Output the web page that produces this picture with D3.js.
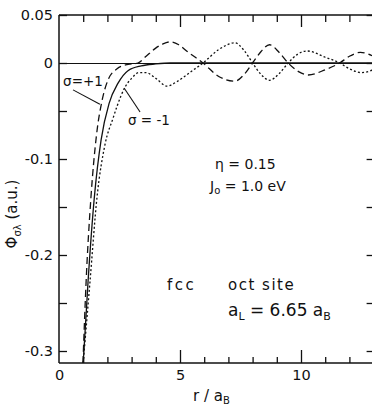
<!DOCTYPE html>
<html>
<head>
<meta charset="utf-8">
<script src="https://cdn.jsdelivr.net/npm/d3@7"></script>
<style>
  body { margin: 0; background: #fff; }
  svg { display: block; font-family: "DejaVu Sans", sans-serif; }
</style>
</head>
<body>
<svg id="chart"></svg>
<script>
// curves: [r/aB, phi]
const sigmaPlus = [
    [0.99, -0.3125], [1.12, -0.228], [1.32, -0.14], [1.55, -0.075], [1.78, -0.039],
    [2.02, -0.018], [2.4, -0.006], [2.75, -0.002], [3.26, 0], [3.6, 0.007],
    [3.97, 0.015], [4.3, 0.02], [4.6, 0.022], [4.95, 0.019], [5.3, 0.012],
    [5.95, 0], [6.6, -0.014], [7.27, -0.019], [7.65, -0.012], [8.0, 0],
    [8.35, 0.012], [8.7, 0.019], [9.1, 0.011], [9.47, 0], [9.9, -0.009],
    [10.3, -0.0125], [11.0, -0.007], [11.6, 0], [12.0, 0.007], [12.45, 0.011], [13, 0.007]
];
const sigmaMinus = [
    [1.0, -0.3125], [1.28, -0.228], [1.57, -0.14], [1.9, -0.085], [2.24, -0.057],
    [2.4, -0.045], [2.73, -0.025], [3.0, -0.016], [3.3, -0.01], [3.6, -0.01],
    [4.0, -0.016], [4.46, -0.024], [4.9, -0.019], [5.4, -0.01], [5.95, 0],
    [6.6, 0.014], [7.27, 0.021], [7.65, 0.013], [8.0, 0], [8.35, -0.012],
    [8.7, -0.018], [9.1, -0.011], [9.47, 0], [9.85, 0.009], [10.25, 0.0125],
    [11.0, 0.006], [11.6, 0], [12.0, -0.006], [12.5, -0.01], [13, -0.007]
];
const sigmaAvg = [
    [1.0, -0.3125], [1.2, -0.228], [1.46, -0.14], [1.74, -0.08], [2.07, -0.042],
    [2.44, -0.021], [2.85, -0.008], [3.4, -0.003], [4.0, -0.001], [4.6, 0], [13, 0]
];

const yTicks = [0.05, 0, -0.05, -0.1, -0.15, -0.2, -0.25, -0.3];
const yLabels = { "0.05": "0.05", "0": "0", "-0.1": "-0.1", "-0.2": "-0.2", "-0.3": "-0.3" };
const xTicks = [1, 2, 3, 4, 5, 6, 7, 8, 9, 10, 11, 12, 13];
const xLabels = [0, 5, 10];

const width = 372, height = 408;
const svg = d3.select("#chart").attr("width", width).attr("height", height);

const x = d3.scaleLinear().domain([0, 13]).range([59, 373.6]);
const y = d3.scaleLinear().domain([-0.3125, 0.05]).range([363, 15]);

const ink = "#111";

// frame
svg.append("line").attr("x1", x(0)).attr("x2", width).attr("y1", y(0.05)).attr("y2", y(0.05))
    .attr("stroke", ink).attr("stroke-width", 1.6);
svg.append("line").attr("x1", x(0)).attr("x2", width).attr("y1", y(-0.3125)).attr("y2", y(-0.3125))
    .attr("stroke", ink).attr("stroke-width", 1.5);
svg.append("line").attr("x1", x(0)).attr("x2", x(0)).attr("y1", y(0.05)).attr("y2", y(-0.3125))
    .attr("stroke", ink).attr("stroke-width", 1.5);
svg.append("line").attr("x1", x(0)).attr("x2", width).attr("y1", y(0) + 0.5).attr("y2", y(0) + 0.5)
    .attr("stroke", ink).attr("stroke-width", 1.2);

// left axis, ticks inward
const yAxis = svg.append("g")
    .attr("transform", `translate(${x(0)},0)`)
    .call(d3.axisLeft(y).tickValues(yTicks).tickSizeInner(-8).tickSizeOuter(0).tickPadding(6)
        .tickFormat(d => yLabels[String(d)] || ""));
yAxis.select(".domain").remove();
yAxis.selectAll("line").attr("stroke", ink).attr("stroke-width", 1.3);
yAxis.selectAll("text").attr("font-size", 14.5).attr("fill", ink)
    .attr("font-family", "DejaVu Sans");

// right axis ticks
const yRight = svg.append("g")
    .attr("transform", `translate(${x(13)},0)`)
    .call(d3.axisLeft(y).tickValues(yTicks).tickSizeInner(7).tickSizeOuter(0).tickFormat(""));
yRight.select(".domain").remove();
yRight.selectAll("line").attr("stroke", ink).attr("stroke-width", 1.3);

// bottom ticks pointing up
const xBottom = svg.append("g")
    .attr("transform", `translate(0,${y(-0.3125)})`)
    .call(d3.axisTop(x).tickValues(xTicks).tickSizeInner(6).tickSizeOuter(0).tickFormat(""));
xBottom.select(".domain").remove();
xBottom.selectAll(".tick line").attr("y2", d => d % 5 === 0 ? -13 : -6)
    .attr("stroke", ink).attr("stroke-width", 1.3);

// top ticks pointing down
const xTop = svg.append("g")
    .attr("transform", `translate(0,${y(0.05)})`)
    .call(d3.axisBottom(x).tickValues(xTicks).tickSizeInner(7).tickSizeOuter(0).tickFormat(""));
xTop.select(".domain").remove();
xTop.selectAll(".tick line").attr("y2", d => d % 5 === 0 ? 12 : 7)
    .attr("stroke", ink).attr("stroke-width", 1.3);

// bottom labels
const xLab = svg.append("g")
    .attr("transform", `translate(0,${y(-0.3125)})`)
    .call(d3.axisBottom(x).tickValues(xLabels).tickSize(0).tickPadding(7).tickFormat(d3.format("d")));
xLab.select(".domain").remove();
xLab.selectAll("text").attr("font-size", 14.5).attr("fill", ink).attr("font-family", "DejaVu Sans");

// curves
const line = d3.line().x(d => x(d[0])).y(d => y(d[1])).curve(d3.curveMonotoneX);
svg.append("path").datum(sigmaAvg).attr("d", line)
    .attr("fill", "none").attr("stroke", ink).attr("stroke-width", 1.3);
svg.append("path").datum(sigmaPlus).attr("d", line)
    .attr("fill", "none").attr("stroke", ink).attr("stroke-width", 1.3)
    .attr("stroke-dasharray", "7,4");
svg.append("path").datum(sigmaMinus).attr("d", line)
    .attr("fill", "none").attr("stroke", ink).attr("stroke-width", 1.3)
    .attr("stroke-dasharray", "2,2.2");

// sigma labels + pointers
svg.append("line").attr("x1", x(0.58)).attr("y1", y(-0.028)).attr("x2", x(1.69)).attr("y2", y(-0.043))
    .attr("stroke", ink).attr("stroke-width", 1.1);
svg.append("text").attr("x", x(0.17)).attr("y", y(-0.024)).attr("font-size", 13.5).attr("fill", ink)
    .text("σ=+1");
svg.append("line").attr("x1", x(3.35)).attr("y1", y(-0.051)).attr("x2", x(2.69)).attr("y2", y(-0.026))
    .attr("stroke", ink).attr("stroke-width", 1.1);
svg.append("text").attr("x", x(2.85)).attr("y", y(-0.0645)).attr("font-size", 13.5).attr("fill", ink)
    .text("σ = -1");

// parameter text
svg.append("text").attr("x", 215).attr("y", 169).attr("font-size", 14).attr("fill", ink)
    .text("η = 0.15");
const j0 = svg.append("text").attr("x", 210).attr("y", 191).attr("font-size", 14).attr("fill", ink);
j0.append("tspan").text("J");
j0.append("tspan").attr("font-size", 10).attr("dy", 3).text("o");
j0.append("tspan").attr("dy", -3).text(" = 1.0 eV");

svg.append("text").attr("x", 167).attr("y", 290).attr("font-size", 15).attr("fill", ink)
    .attr("letter-spacing", 2.5).text("fcc");
svg.append("text").attr("x", 228).attr("y", 290).attr("font-size", 15).attr("fill", ink)
    .attr("letter-spacing", 1.5).text("oct site");
const aL = svg.append("text").attr("x", 228).attr("y", 316).attr("font-size", 17).attr("fill", ink);
aL.append("tspan").text("a");
aL.append("tspan").attr("font-size", 11).attr("dy", 4).text("L");
aL.append("tspan").attr("dy", -4).text(" = 6.65 a");
aL.append("tspan").attr("font-size", 11).attr("dy", 4).text("B");

// axis titles
const xt = svg.append("text").attr("x", 193).attr("y", 401).attr("font-size", 15).attr("fill", ink);
xt.append("tspan").text("r / a");
xt.append("tspan").attr("font-size", 10).attr("dy", 3).text("B");

const yt = svg.append("text").attr("transform", "translate(17,214) rotate(-90)")
    .attr("text-anchor", "middle").attr("font-size", 15).attr("fill", ink);
yt.append("tspan").text("Φ");
yt.append("tspan").attr("font-size", 10).attr("dy", 4).text("σλ");
yt.append("tspan").attr("dy", -4).text("  (a.u.)");
</script>
</body>
</html>
